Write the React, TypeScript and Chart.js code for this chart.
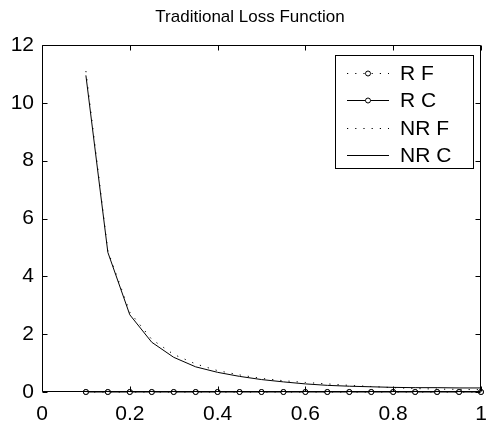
import React, { useEffect, useRef } from "react";
import { Chart, registerables } from "chart.js";

Chart.register(...registerables);

const TITLE = "Traditional Loss Function";
const xValues = [0.1, 0.15, 0.2, 0.25, 0.3, 0.35, 0.4, 0.45, 0.5, 0.55, 0.6, 0.65, 0.7, 0.75, 0.8, 0.85, 0.9, 0.95, 1.0];
const rF = [0, 0, 0, 0, 0, 0, 0, 0, 0, 0, 0, 0, 0, 0, 0, 0, 0, 0, 0];
const rC = [0, 0, 0, 0, 0, 0, 0, 0, 0, 0, 0, 0, 0, 0, 0, 0, 0, 0, 0];
const nrF = [11.1, 4.88, 2.76, 1.82, 1.3, 0.97, 0.74, 0.59, 0.47, 0.39, 0.33, 0.28, 0.23, 0.19, 0.15, 0.12, 0.1, 0.09, 0.08];
const nrC = [10.95, 4.83, 2.67, 1.72, 1.2, 0.87, 0.68, 0.54, 0.43, 0.35, 0.28, 0.23, 0.2, 0.18, 0.16, 0.15, 0.15, 0.14, 0.14];
const seriesNames = ["R F", "R C", "NR F", "NR C"];
const xTicks = [0, 0.2, 0.4, 0.6, 0.8, 1];
const yTicks = [0, 2, 4, 6, 8, 10, 12];

const FONT = "'Liberation Sans', Arial, sans-serif";

function pts(ys: number[]) {
  return xValues.map((x, i) => ({ x, y: ys[i] }));
}

const frameLegendPlugin = {
  id: "matlabFrame",
  afterDraw(chart: any) {
    const ctx = chart.ctx;
    const a = chart.chartArea;
    const xs = chart.scales.x;
    const ys = chart.scales.y;
    ctx.save();
    ctx.strokeStyle = "#000";
    ctx.lineWidth = 1;
    const L = Math.round(a.left) + 0.5;
    const R = Math.round(a.right) - 0.5;
    const T = Math.round(a.top) + 0.5;
    const B = Math.round(a.bottom) - 0.5;
    ctx.beginPath();
    ctx.rect(L, T, R - L, B - T);
    ctx.stroke();
    const tl = 5;
    ctx.beginPath();
    xTicks.forEach((v) => {
      const px = Math.round(xs.getPixelForValue(v)) + 0.5;
      ctx.moveTo(px, B);
      ctx.lineTo(px, B - tl);
      ctx.moveTo(px, T);
      ctx.lineTo(px, T + tl);
    });
    yTicks.forEach((v) => {
      const py = Math.round(ys.getPixelForValue(v)) + 0.5;
      ctx.moveTo(L, py);
      ctx.lineTo(L + tl, py);
      ctx.moveTo(R, py);
      ctx.lineTo(R - tl, py);
    });
    ctx.stroke();

    // title
    ctx.fillStyle = "#000";
    ctx.font = "17px " + FONT;
    ctx.textAlign = "center";
    ctx.textBaseline = "middle";
    ctx.fillText(TITLE, 250, 17);

    // legend
    const bx = 335.5, by = 55.5, bw = 138, bh = 113;
    ctx.fillStyle = "#fff";
    ctx.fillRect(bx, by, bw, bh);
    ctx.strokeStyle = "#000";
    ctx.strokeRect(bx, by, bw, bh);
    chart.data.datasets.forEach((ds: any, i: number) => {
      const cy = Math.round(73 + i * 27.3) + 0.5;
      const x0 = 347, x1 = 389;
      ctx.save();
      ctx.strokeStyle = "#000";
      ctx.lineWidth = 1;
      ctx.setLineDash(ds.borderDash || []);
      ctx.beginPath();
      ctx.moveTo(x0, cy);
      ctx.lineTo(x1, cy);
      ctx.stroke();
      ctx.setLineDash([]);
      if (ds.pointRadius > 0) {
        ctx.fillStyle = "#fff";
        ctx.beginPath();
        ctx.arc((x0 + x1) / 2, cy, ds.pointRadius, 0, Math.PI * 2);
        ctx.fill();
        ctx.stroke();
      }
      ctx.fillStyle = "#000";
      ctx.font = "21px " + FONT;
      ctx.textAlign = "left";
      ctx.textBaseline = "middle";
      ctx.fillText(ds.label, 400, cy + 1);
      ctx.restore();
    });
    ctx.restore();
  },
};

export default function App() {
  const ref = useRef<HTMLCanvasElement>(null);
  useEffect(() => {
    if (!ref.current) return;
    const dotted = [1.2, 7];
    const chart = new Chart(ref.current, {
      type: "line",
      data: {
        datasets: [
          { label: seriesNames[0], data: pts(rF), borderColor: "#000", borderWidth: 1, borderDash: dotted, pointRadius: 2.5, pointBorderWidth: 1, pointBackgroundColor: "#fff", pointBorderColor: "#000", clip: false as any },
          { label: seriesNames[1], data: pts(rC), borderColor: "#000", borderWidth: 1, pointRadius: 2.5, pointBorderWidth: 1, pointBackgroundColor: "#fff", pointBorderColor: "#000", clip: false as any },
          { label: seriesNames[2], data: pts(nrF), borderColor: "#000", borderWidth: 1, borderDash: dotted, pointRadius: 0, clip: false as any },
          { label: seriesNames[3], data: pts(nrC), borderColor: "#000", borderWidth: 1, pointRadius: 0, clip: false as any },
        ],
      },
      options: {
        animation: false,
        responsive: true,
        maintainAspectRatio: false,
        layout: { padding: { top: 45, right: 4, left: 0, bottom: 0 } },
        plugins: { legend: { display: false }, title: { display: false }, tooltip: { enabled: false } },
        elements: { line: { tension: 0 } },
        scales: {
          x: {
            type: "linear",
            min: 0,
            max: 1,
            grid: { display: false, drawTicks: false },
            border: { display: false },
            afterBuildTicks: (s: any) => { s.ticks = xTicks.map((v) => ({ value: v })); },
            ticks: {
              color: "#000",
              font: { family: FONT, size: 21 },
              padding: 10,
              maxRotation: 0,
              autoSkip: false,
              callback: (v: any) => String(Number(v)),
            },
            afterFit: (s: any) => { s.height = 36; s.paddingLeft = 0; s.paddingRight = 0; },
          },
          y: {
            min: 0,
            max: 12,
            grid: { display: false, drawTicks: false },
            border: { display: false },
            afterBuildTicks: (s: any) => { s.ticks = yTicks.map((v) => ({ value: v })); },
            ticks: {
              color: "#000",
              font: { family: FONT, size: 21 },
              padding: 8,
              autoSkip: false,
              callback: (v: any) => String(Number(v)),
            },
            afterFit: (s: any) => { s.width = 42; s.paddingTop = 0; s.paddingBottom = 0; },
          },
        },
      },
      plugins: [frameLegendPlugin],
    });
    return () => chart.destroy();
  }, []);
  return (
    <div style={{ position: "absolute", left: 0, top: 0, width: 486, height: 428, background: "#fff" }}>
      <canvas ref={ref} />
    </div>
  );
}
